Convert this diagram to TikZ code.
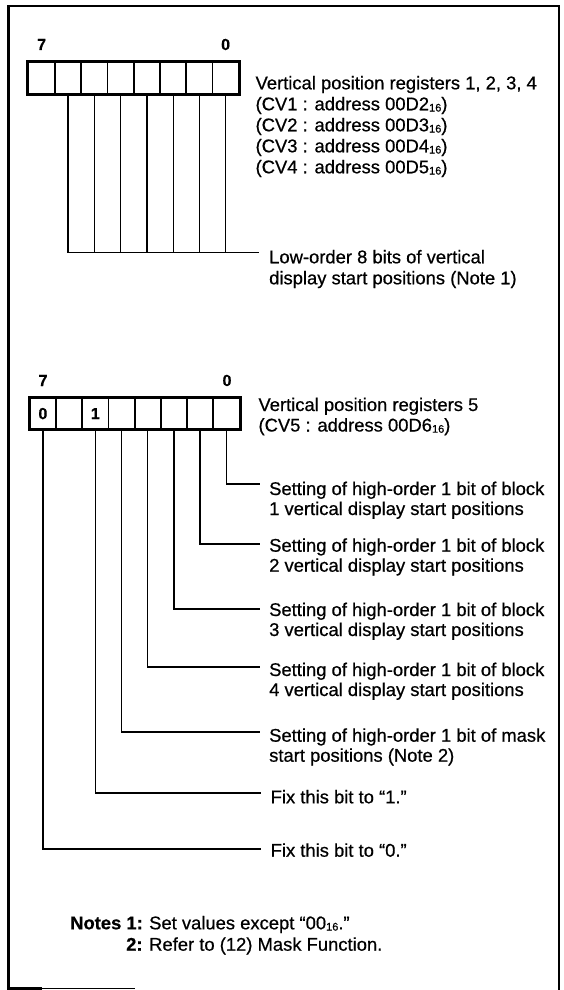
\documentclass[tikz,border=0pt]{standalone}
\usepackage{fontspec}
\setmainfont{Liberation Sans}[FakeBold=0.6]
\newcommand\hexsub[1]{\raisebox{-1.2pt}{\fontsize{11}{11}\selectfont #1}}
\begin{document}
\begin{tikzpicture}[x=1pt,y=-1pt,
  txt/.style={font=\fontsize{18.4}{21}\selectfont, anchor=base west, inner sep=0pt},
  bold/.style={font=\fontsize{18.4}{21}\selectfont\bfseries, anchor=base west, inner sep=0pt},
  bitnum/.style={font=\fontsize{16}{16}\selectfont\bfseries, anchor=base, inner sep=0pt},
  cell/.style={draw, line width=1.7pt, minimum width=26.3pt, minimum height=31pt, inner sep=0pt,
    font=\fontsize{16}{16}\selectfont\bfseries},
  outer/.style={line width=2.6pt},
  conn/.style={line width=1.3pt},
  frame/.style={line width=2.4pt}]
\useasboundingbox (0,0) rectangle (563,990);
% frame
\draw[frame] (8.5,990) -- (8.5,6) -- (559,6) -- (559,990);
\draw[frame] (8.5,988.5) -- (42,988.5);
\draw[line width=0.8pt] (42,988.5) -- (135,988.5);

% ---------- register 1 ----------
\foreach \b in {7,...,0}
  \node[cell] (r1b\b) at ({28.5+26.3*(7-\b+0.5)},78) {};
\draw[outer] (r1b7.north west) rectangle (r1b0.south east);
\node[bitnum] (r1h) at (41.6,50) {7};
\node[bitnum] (r1l) at (225.6,50) {0};

\node[txt] (r1t1) at (255.4,89.3) {Vertical position registers 1, 2, 3, 4};
\node[txt] (r1t2) at (255.4,110.3) {(CV1 : address 00D2\hexsub{16})};
\node[txt] (r1t3) at (255.4,131.3) {(CV2 : address 00D3\hexsub{16})};
\node[txt] (r1t4) at (255.4,152.3) {(CV3 : address 00D4\hexsub{16})};
\node[txt] (r1t5) at (255.4,173.3) {(CV4 : address 00D5\hexsub{16})};

\coordinate (bus1) at (259,252.7);
\draw[conn] (r1b6.south) |- (bus1);
\foreach \b in {5,...,0}
  \draw[conn] (r1b\b.south) -- (r1b\b.south |- bus1);
\node[txt] (lo1) at (269,263.3) {Low-order 8 bits of vertical};
\node[txt] (lo2) at (269,284.3) {display start positions (Note 1)};

% ---------- register 2 ----------
\foreach \b/\v in {7/0,6/{},5/1,4/{},3/{},2/{},1/{},0/{}}
  \node[cell] (r2b\b) at ({29.8+26.2*(7-\b+0.5)},413.6) {\v};
\draw[outer] (r2b7.north west) rectangle (r2b0.south east);
\node[bitnum] (r2h) at (43,386) {7};
\node[bitnum] (r2l) at (227,386) {0};

\node[txt] (r2t1) at (258.3,411) {Vertical position registers 5};
\node[txt] (r2t2) at (258.3,431.5) {(CV5 : address 00D6\hexsub{16})};

\coordinate (e0) at (259.5,484);
\coordinate (e1) at (259.5,544);
\coordinate (e2) at (259.5,609);
\coordinate (e3) at (259.5,667);
\coordinate (e4) at (259.5,732);
\coordinate (e5) at (260.5,793);
\coordinate (e7) at (260.5,849);
\draw[conn] (r2b0.south) |- (e0);
\draw[conn] (r2b1.south) |- (e1);
\draw[conn] (r2b2.south) |- (e2);
\draw[conn] (r2b3.south) |- (e3);
\draw[conn] (r2b4.south) |- (e4);
\draw[conn] (r2b5.south) |- (e5);
\draw[conn] (r2b7.south) |- (e7);

\node[txt] (s0a) at (269,495) {Setting of high-order 1 bit of block};
\node[txt] (s0b) at (269,515) {1 vertical display start positions};
\node[txt] (s1a) at (269,551.7) {Setting of high-order 1 bit of block};
\node[txt] (s1b) at (269,571.7) {2 vertical display start positions};
\node[txt] (s2a) at (269,616) {Setting of high-order 1 bit of block};
\node[txt] (s2b) at (269,636) {3 vertical display start positions};
\node[txt] (s3a) at (269,676) {Setting of high-order 1 bit of block};
\node[txt] (s3b) at (269,696) {4 vertical display start positions};
\node[txt] (s4a) at (269,741.7) {Setting of high-order 1 bit of mask};
\node[txt] (s4b) at (269,761.7) {start positions (Note 2)};
\node[txt] (s5) at (270.5,803.3) {Fix this bit to “1.”};
\node[txt] (s7) at (270.5,856.7) {Fix this bit to “0.”};

% ---------- notes ----------
\node[bold] (n1) at (70,929.3) {Notes 1:};
\node[txt] (n1t) at (149,929.3) {Set values except “00\hexsub{16}.”};
\node[bold] (n2) at (126,950.7) {2:};
\node[txt] (n2t) at (149,950.7) {Refer to (12) Mask Function.};
\end{tikzpicture}
\end{document}
